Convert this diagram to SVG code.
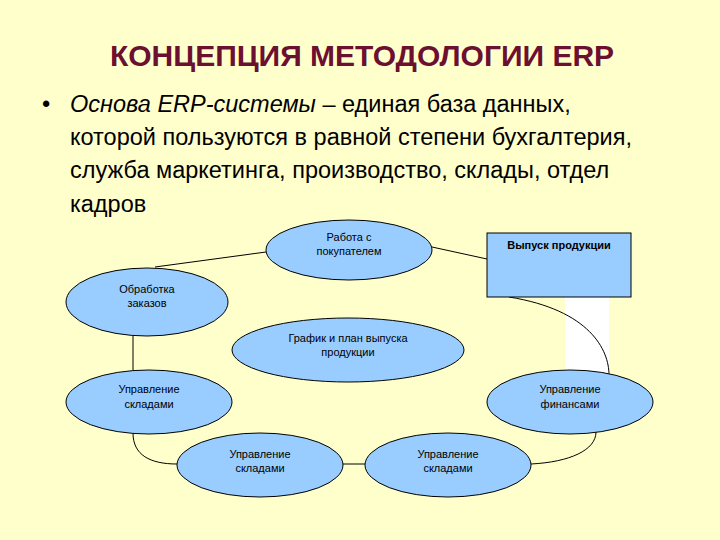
<svg xmlns="http://www.w3.org/2000/svg" width="720" height="540" viewBox="0 0 720 540">
<style>
text{font-family:"Liberation Sans",Arial,sans-serif}
.n{fill:#99CCFF;stroke:#000;stroke-width:1}
.l{fill:none;stroke:#000;stroke-width:1}
.t{font-size:11px;fill:#000;text-anchor:middle}
.b{font-size:23.5px;fill:#000}
</style>
<rect width="720" height="540" fill="#FFFFCC"/>
<text x="362" y="66" text-anchor="middle" font-size="30" font-weight="bold" fill="#6B1030">КОНЦЕПЦИЯ МЕТОДОЛОГИИ ERP</text>
<text class="b" x="42" y="112">•</text>
<text class="b" x="70" y="112"><tspan font-style="italic">Основа ERP-системы</tspan> – единая база данных,</text>
<text class="b" x="70" y="145">которой пользуются в равной степени бухгалтерия,</text>
<text class="b" x="70" y="178">служба маркетинга, производство, склады, отдел</text>
<text class="b" x="70" y="212">кадров</text>
<g id="connectors">
<rect x="565" y="297" width="44" height="78" fill="#FFFFFF"/>
<path class="l" d="M155,267 L266,252"/>
<path class="l" d="M432,247 L487,259"/>
<path class="l" d="M133,336 L133,370"/>
<path class="l" d="M133,433 C133,455 150,464 177,464"/>
<path class="l" d="M343,464 L365,464"/>
<path class="l" d="M531,464 C570,462 596,450 596,432"/>
<path class="l" d="M509,297 C590,310 609,350 609,375"/>
</g>
<g id="n1"><ellipse class="n" cx="349" cy="250" rx="83" ry="30"/><text class="t" x="349" y="241">Работа с</text><text class="t" x="349" y="255">покупателем</text></g>
<g id="n2"><rect class="n" x="487" y="233" width="144" height="64"/><text x="559" y="249" font-size="11" font-weight="bold" text-anchor="middle">Выпуск продукции</text></g>
<g id="n3"><ellipse class="n" cx="147" cy="302" rx="81" ry="34"/><text class="t" x="147" y="293">Обработка</text><text class="t" x="147" y="307">заказов</text></g>
<g id="n4"><ellipse class="n" cx="348" cy="350" rx="116" ry="32"/><text class="t" x="348" y="342">График и план выпуска</text><text class="t" x="348" y="356">продукции</text></g>
<g id="n5"><ellipse class="n" cx="149" cy="402" rx="83" ry="32"/><text class="t" x="149" y="393">Управление</text><text class="t" x="149" y="408">складами</text></g>
<g id="n6"><ellipse class="n" cx="570" cy="402" rx="83" ry="32"/><text class="t" x="570" y="393">Управление</text><text class="t" x="570" y="408">финансами</text></g>
<g id="n7"><ellipse class="n" cx="260" cy="465" rx="83" ry="32"/><text class="t" x="260" y="458">Управление</text><text class="t" x="260" y="472">складами</text></g>
<g id="n8"><ellipse class="n" cx="448" cy="465" rx="83" ry="32"/><text class="t" x="448" y="458">Управление</text><text class="t" x="448" y="472">складами</text></g>
</svg>
